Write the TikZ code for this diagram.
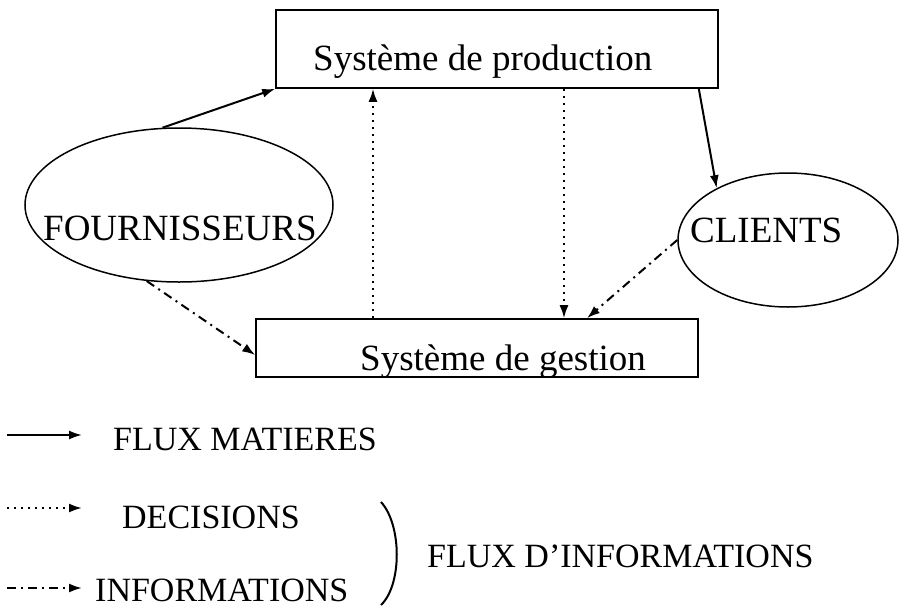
\documentclass[tikz,border=0pt]{standalone}
\usepackage{fontspec}
\setmainfont{Liberation Serif}
\usetikzlibrary{arrows.meta,shapes.geometric}
\begin{document}
\begin{tikzpicture}[x=1pt,y=-1pt,
  box/.style={draw,line width=1.6pt,rectangle,inner sep=0pt},
  actor/.style={draw,line width=1.5pt,ellipse,inner sep=0pt},
  big/.style={inner sep=0pt,anchor=base west,font=\fontsize{37}{40}\selectfont},
  small/.style={inner sep=0pt,anchor=base west,text depth=0pt,font=\fontsize{34}{38}\selectfont},
  tip/.style={-{Latex[length=13pt,width=9pt]}},
  matiere/.style={tip,line width=2pt},
  decision/.style={tip,line width=2pt,dash pattern=on 2pt off 5pt},
  info/.style={tip,line width=2pt,dash pattern=on 9pt off 5pt on 2pt off 5pt}]
\useasboundingbox (0,0) rectangle (899,608);

% boxes and actors
\node[box,minimum width=442,minimum height=78] (prod) at (497,49) {};
\node[box,minimum width=442,minimum height=58] (gest) at (477,348) {};
\node[actor,minimum width=308,minimum height=154] (four) at (179,205) {};
\node[actor,minimum width=220,minimum height=134] (cli) at (788,240) {};

% labels
\node[big] (prodt) at (313,70) {Système de production};
\node[big] (gestt) at (360,370) {Système de gestion};
\node[big] (fourt) at (43,240) {FOURNISSEURS};
\node[big] (clit) at (690,242) {CLIENTS};

% flows
\coordinate (up) at (373,0);
\coordinate (down) at (564,0);
\coordinate (infg) at (587,0);
\draw[matiere] (four.102) -- (prod.south west);
\draw[matiere] ([xshift=-20pt]prod.south east) -- (cli.144);
\draw[decision] (up |- gest.north) -- (up |- prod.south);
\draw[decision] (down |- prod.south) -- (down |- gest.north);
\draw[info] (cli.west) -- (infg |- gest.north);
\draw[info] (four.247) -- ([yshift=-7pt]gest.west);

% legend
\coordinate (l1a) at (7,435);  \coordinate (l1b) at (82,435);
\coordinate (l2a) at (7,508);  \coordinate (l2b) at (82,508);
\coordinate (l3a) at (7,588);  \coordinate (l3b) at (82,588);
\draw[matiere] (l1a) -- (l1b);
\draw[decision] (l2a) -- (l2b);
\draw[info] (l3a) -- (l3b);
\node[small] (lg1) at (113,450) {FLUX MATIERES};
\node[small] (lg2) at (122,528) {DECISIONS};
\node[small] (lg3) at (95,601) {INFORMATIONS};
\draw[line width=2pt] (381,502) .. controls (402,525) and (402,585) .. (381,605);
\node[small] (lg4) at (427,567) {FLUX D’INFORMATIONS};
\end{tikzpicture}
\end{document}
